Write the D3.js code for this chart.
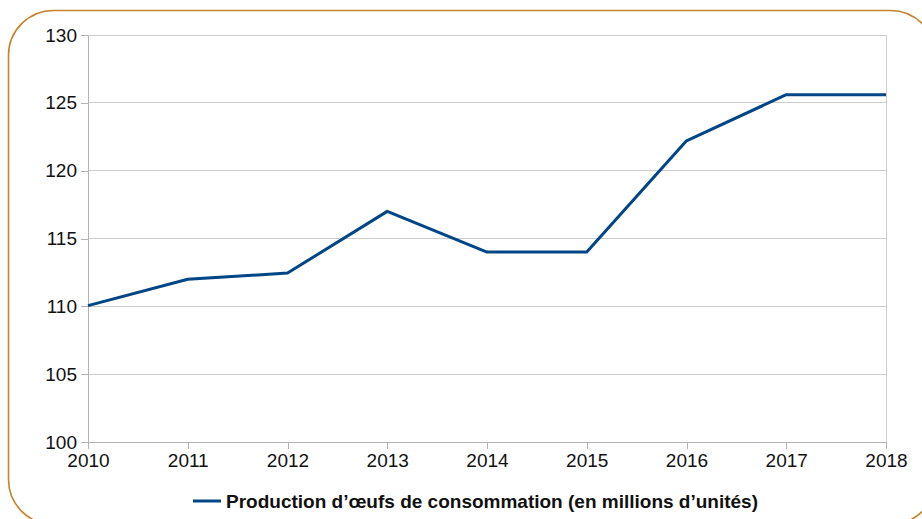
<!doctype html>
<html>
<head>
  <script src="https://cdnjs.cloudflare.com/ajax/libs/d3/7.8.5/d3.min.js"></script>
  <style>
    body { margin: 0; background: #fff; }
    svg { font-family: "Liberation Sans", Arial, sans-serif; }
    .grid line { stroke: #cccccc; shape-rendering: crispEdges; }
    .axis path, .axis line { stroke: #b3b3b3; shape-rendering: crispEdges; }
    .axis text { font-size: 19px; fill: #111; }
  </style>
</head>
<body>
  <svg width="922" height="519"></svg>
  <script>
    var years = [2010, 2011, 2012, 2013, 2014, 2015, 2016, 2017, 2018];
    var production = [110.05, 112.0, 112.45, 117.0, 114.0, 114.0, 122.2, 125.6, 125.6];
    var yTicks = [100, 105, 110, 115, 120, 125, 130];
    var seriesName = "Production d\u2019\u0153ufs de consommation (en millions d\u2019unit\u00e9s)";

    var svg = d3.select("svg");

    // rounded frame
    svg.append("rect")
      .attr("x", 8.5).attr("y", 10.5)
      .attr("width", 927).attr("height", 514)
      .attr("rx", 45).attr("ry", 45)
      .attr("fill", "none")
      .attr("stroke", "#c8832a")
      .attr("stroke-width", 1.6);

    var pL = 88, pR = 886, pT = 35, pB = 442;
    var x = d3.scaleLinear().domain([2010, 2018]).range([pL, pR]);
    var y = d3.scaleLinear().domain([100, 130]).range([pB, pT]);

    // horizontal gridlines
    svg.append("g").attr("class", "grid")
      .selectAll("line").data(yTicks).enter().append("line")
      .attr("x1", pL).attr("x2", pR)
      .attr("y1", d => y(d)).attr("y2", d => y(d));

    // right border of plot
    svg.append("line")
      .attr("x1", pR).attr("x2", pR).attr("y1", pT).attr("y2", pB)
      .attr("stroke", "#cccccc").style("shape-rendering", "crispEdges");

    var yAxis = d3.axisLeft(y).tickValues(yTicks).tickSize(7).tickPadding(4).tickSizeOuter(0);
    svg.append("g").attr("class", "axis")
      .attr("transform", "translate(" + pL + ",0)")
      .call(yAxis);

    var xAxis = d3.axisBottom(x).tickValues(years).tickFormat(d3.format("d"))
      .tickSize(7).tickPadding(5).tickSizeOuter(0);
    svg.append("g").attr("class", "axis")
      .attr("transform", "translate(0," + pB + ")")
      .call(xAxis);

    var line = d3.line()
      .x((d, i) => x(years[i]))
      .y(d => y(d));

    svg.append("path")
      .datum(production)
      .attr("d", line)
      .attr("fill", "none")
      .attr("stroke", "#004586")
      .attr("stroke-width", 3)
      .attr("stroke-linejoin", "round");

    // legend
    var lg = svg.append("g").attr("transform", "translate(193,501)");
    lg.append("line").attr("x1", 0).attr("x2", 28).attr("y1", 0).attr("y2", 0)
      .attr("stroke", "#004586").attr("stroke-width", 3);
    lg.append("text").attr("x", 33).attr("y", 7)
      .attr("font-size", "19px").attr("font-weight", "bold").attr("fill", "#111")
      .text(seriesName);
  </script>
</body>
</html>
